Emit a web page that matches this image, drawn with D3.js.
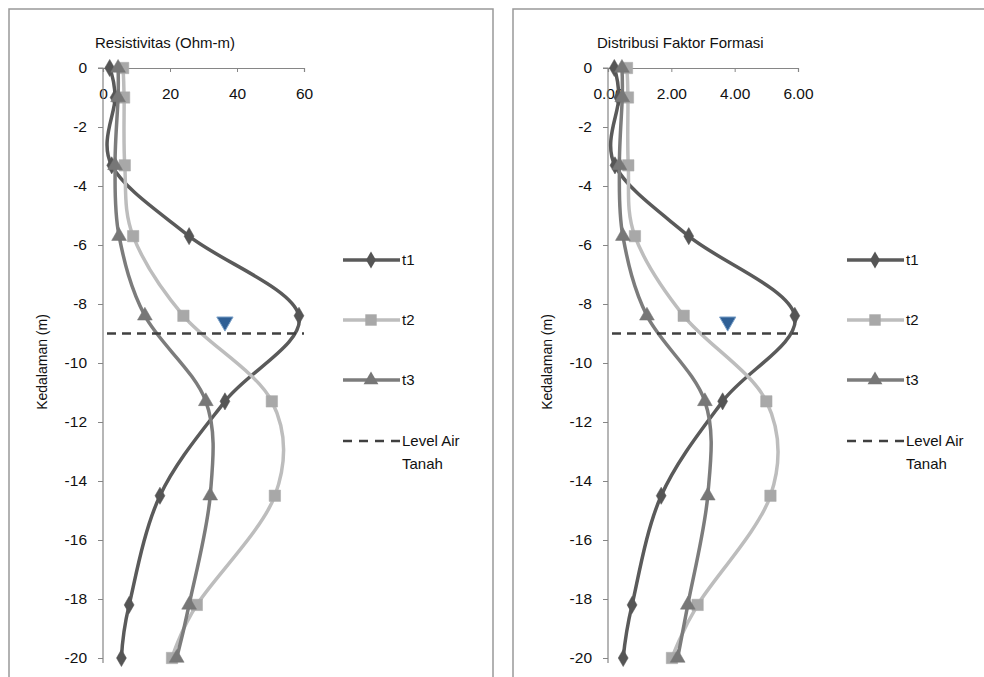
<!DOCTYPE html>
<html><head><meta charset="utf-8">
<script src="https://cdn.jsdelivr.net/npm/d3@7"></script>
<style>
html,body{margin:0;padding:0;background:#fff;}
svg{display:block;font-family:"Liberation Sans",Arial,sans-serif;}
</style></head>
<body>
<svg id="c" width="984" height="677"></svg>
<script>
// ---- data ----
const depths = [0, -1, -3.3, -5.7, -8.4, -11.3, -14.5, -18.2, -20];
const resT1 = [2, 3.6, 2.6, 25.7, 58.5, 36.4, 17, 7.8, 5.5];
const resT2 = [6, 6.3, 6.5, 9, 24, 50.4, 51.3, 28, 20.6];
const resT3 = [4.5, 4.5, 3.6, 4.8, 12.5, 30.7, 32, 25.7, 22];
const ffT1 = [0.2, 0.34, 0.22, 2.55, 5.9, 3.62, 1.68, 0.76, 0.48];
const ffT2 = [0.6, 0.63, 0.64, 0.85, 2.39, 5.0, 5.13, 2.83, 2.02];
const ffT3 = [0.44, 0.45, 0.36, 0.47, 1.23, 3.06, 3.15, 2.52, 2.2];
const waterLevel = -9;
const markerRes = [36.4, -8.6];
const markerFF = [3.78, -8.6];
const seriesNames = ["t1", "t2", "t3"];
const legendWater = ["Level Air", "Tanah"];
const resTicks = [0, 20, 40, 60];
const ffTicks = [0, 2, 4, 6];
const depthTicks = [0, -2, -4, -6, -8, -10, -12, -14, -16, -18, -20];
const titles = ["Resistivitas (Ohm-m)", "Distribusi Faktor Formasi"];
const yTitle = "Kedalaman (m)";

const svg = d3.select("#c");
const styles = [
  {line: "#5a5a5a", fill: "#555555", shape: d3.symbolDiamond, size: 85, w: 3.5},
  {line: "#bdbdbd", fill: "#a8a8a8", shape: d3.symbolSquare, size: 130, w: 3.5},
  {line: "#7c7c7c", fill: "#777777", shape: d3.symbolTriangle, size: 95, w: 3.5}
];
const txt = "#111";

function panel(cfg) {
  const g = svg.append("g");
  g.append("path").attr("d", `M${cfg.fx0},690V${cfg.fy}H${cfg.fx1}V690`)
    .attr("fill", "none").attr("stroke", "#999").attr("stroke-width", 1.5);
  const x = d3.scaleLinear().domain(cfg.xDomain).range(cfg.xRange);
  const y = d3.scaleLinear().domain([0, -20]).range([68, 658]);

  const ax = g.append("g").attr("transform", `translate(0,${y(0)})`)
    .call(d3.axisBottom(x).tickValues(cfg.xTicks).tickSize(4).tickPadding(16).tickFormat(cfg.fmt));
  ax.select(".domain").attr("stroke", "#868686").attr("stroke-width", 1.2);
  ax.selectAll(".tick line").attr("stroke", "#868686");
  ax.selectAll("text").attr("font-size", 15.5).attr("fill", txt).attr("font-family", "Liberation Sans, Arial");

  const ay = g.append("g").attr("transform", `translate(${x(0)},0)`)
    .call(d3.axisLeft(y).tickValues(depthTicks).tickSize(5).tickPadding(11).tickFormat(d3.format("d")));
  ay.select(".domain").attr("d", `M-5,${y(0)}H0V663`).attr("stroke", "#868686").attr("stroke-width", 1.2);
  ay.selectAll(".tick line").attr("stroke", "#868686");
  ay.selectAll("text").attr("font-size", 15.5).attr("fill", txt).attr("font-family", "Liberation Sans, Arial")
    .text(d => d === 0 ? "0" : "-" + Math.abs(d));

  g.append("text").attr("x", cfg.titleX).attr("y", 48).attr("font-size", 15).attr("fill", txt).text(cfg.title);
  g.append("text").attr("transform", `translate(${cfg.yTitleX},362) rotate(-90)`)
    .attr("text-anchor", "middle").attr("font-size", 14).attr("fill", txt).text(yTitle);

  const line = d3.line().x(d => x(d[0])).y(d => y(d[1])).curve(d3.curveCardinal.tension(0));
  cfg.series.forEach((vals, i) => {
    const pts = vals.map((v, k) => [v, depths[k]]);
    g.append("path").attr("d", line(pts)).attr("fill", "none")
      .attr("stroke", styles[i].line).attr("stroke-width", styles[i].w).attr("stroke-linejoin", "round");
    g.selectAll(null).data(pts).enter().append("path")
      .attr("d", d3.symbol().type(styles[i].shape).size(styles[i].size))
      .attr("transform", d => `translate(${x(d[0])},${y(d[1])})`)
      .attr("fill", styles[i].fill).attr("stroke", styles[i].fill).attr("stroke-width", 0.5);
  });

  g.append("line").attr("x1", x(0) + 4).attr("x2", x(cfg.xDomain[1])).attr("y1", y(waterLevel)).attr("y2", y(waterLevel))
    .attr("stroke", "#404040").attr("stroke-width", 2.5).attr("stroke-dasharray", "9,6");
  g.append("path").attr("d", d3.symbol().type(d3.symbolTriangle).size(115))
    .attr("transform", `translate(${x(cfg.marker[0])},${y(cfg.marker[1])}) rotate(180)`)
    .attr("fill", "#2f5f95").attr("stroke", "#7aa0c8").attr("stroke-width", 1);

  const lx = cfg.legendX, ly = [260, 320, 380];
  seriesNames.forEach((n, i) => {
    g.append("line").attr("x1", lx).attr("x2", lx + 57).attr("y1", ly[i]).attr("y2", ly[i])
      .attr("stroke", styles[i].line).attr("stroke-width", styles[i].w);
    g.append("path").attr("d", d3.symbol().type(styles[i].shape).size(styles[i].size))
      .attr("transform", `translate(${lx + 28},${ly[i]})`).attr("fill", styles[i].fill);
    g.append("text").attr("x", lx + 59).attr("y", ly[i] + 5).attr("font-size", 15).attr("fill", txt).text(n);
  });
  g.append("line").attr("x1", lx).attr("x2", lx + 57).attr("y1", 441).attr("y2", 441)
    .attr("stroke", "#404040").attr("stroke-width", 2.5).attr("stroke-dasharray", "9,7");
  g.append("text").attr("x", lx + 59).attr("y", 446).attr("font-size", 15).attr("fill", txt).text(legendWater[0]);
  g.append("text").attr("x", lx + 59).attr("y", 469).attr("font-size", 15).attr("fill", txt).text(legendWater[1]);
}

panel({fx0: 9, fx1: 493, fy: 9, xDomain: [0, 60], xRange: [103, 304], xTicks: resTicks, fmt: d3.format("d"),
  title: titles[0], titleX: 95, yTitleX: 47, series: [resT1, resT2, resT3], marker: markerRes, legendX: 343});
panel({fx0: 513, fx1: 1000, fy: 9, xDomain: [0, 6], xRange: [608, 798], xTicks: ffTicks, fmt: d3.format(".2f"),
  title: titles[1], titleX: 597, yTitleX: 552, series: [ffT1, ffT2, ffT3], marker: markerFF, legendX: 847});
</script>
</body></html>
